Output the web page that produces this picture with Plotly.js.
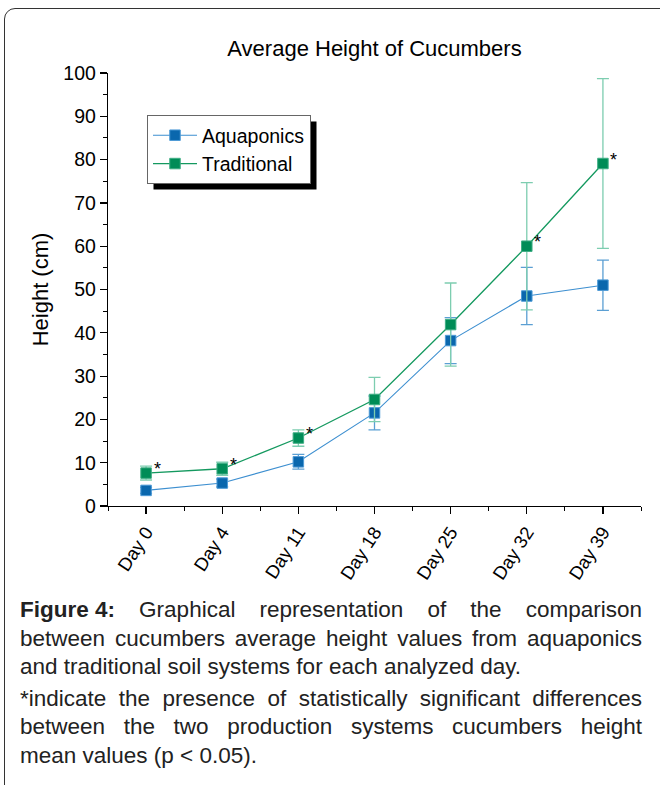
<!DOCTYPE html>
<html>
<head>
<meta charset="utf-8">
<script src="https://cdn.plot.ly/plotly-3.0.1.min.js"></script>
<style>
  html, body { margin: 0; padding: 0; background: #fff; }
  body { width: 660px; height: 785px; position: relative; overflow: hidden; font-family: Arial, "Liberation Sans", sans-serif; }
  #frame { position: absolute; left: 4px; top: 8px; width: 720px; height: 820px; border: 1px solid #333; border-radius: 11px; }
  #chart { position: absolute; left: 0; top: 0; width: 660px; height: 785px; }
  #caption { position: absolute; left: 20px; top: 596px; width: 622px; font-size: 22.5px; color: #222; line-height: 28.5px; }
  #caption .ln { text-align: justify; text-align-last: justify; white-space: nowrap; }
  #caption .last { text-align: left; text-align-last: left; }
  #caption .p2 { margin-top: 3px; }
  #caption .fig { display: inline-block; font-weight: bold; }
</style>
</head>
<body>
<div id="frame"></div>
<div id="chart"></div>
<div id="caption">
  <div class="ln"><span class="fig">Figure 4:</span> Graphical representation of the comparison</div>
  <div class="ln">between cucumbers average height values from aquaponics</div>
  <div class="ln last">and traditional soil systems for each analyzed day.</div>
  <div class="ln p2">*indicate the presence of statistically significant differences</div>
  <div class="ln">between the two production systems cucumbers height</div>
  <div class="ln last">mean values (p &lt; 0.05).</div>
</div>
<script>
const days = ["Day 0", "Day 4", "Day 11", "Day 18", "Day 25", "Day 32", "Day 39"];
const aquaponics = [3.6, 5.3, 10.2, 21.5, 38.2, 48.5, 51.0];
const aquaponicsErr = [0.7, 0.9, 1.7, 3.9, 5.3, 6.6, 5.8];
const traditional = [7.6, 8.6, 15.7, 24.6, 41.9, 60.0, 79.1];
const traditionalErr = [1.6, 1.5, 1.9, 5.1, 9.6, 14.7, 19.6];
const significant = [true, true, true, false, false, true, true];

const xIdx = days.map((d, i) => i);

const blueLine = '#3d8fd0', blueMarker = '#0a67ad', blueErr = '#5b9fd3';
const greenLine = '#14995f', greenMarker = '#008c57', greenErr = '#7dcdb0';

const traces = [
  {
    x: xIdx, y: aquaponics, name: 'Aquaponics', mode: 'lines+markers', type: 'scatter',
    line: { color: blueLine, width: 1.1 },
    marker: { symbol: 'square', size: 10.5, color: blueMarker, line: { color: '#4d9ad6', width: 1 } },
    error_y: { type: 'data', array: aquaponicsErr, visible: true, color: blueErr, thickness: 1.3, width: 6 }
  },
  {
    x: xIdx, y: traditional, name: 'Traditional', mode: 'lines+markers', type: 'scatter',
    line: { color: greenLine, width: 1.3 },
    marker: { symbol: 'square', size: 10.5, color: greenMarker, line: { color: '#3fae84', width: 1 } },
    error_y: { type: 'data', array: traditionalErr, visible: true, color: greenErr, thickness: 1.3, width: 6 }
  }
];

const annotations = [];
significant.forEach((s, i) => {
  if (s) annotations.push({
    x: xIdx[i], y: traditional[i], xref: 'x', yref: 'y', text: '*', showarrow: false,
    xshift: 11, yshift: 4, font: { family: 'Arial, Liberation Sans, sans-serif', size: 18, color: '#000' }
  });
});

const pw = 533, ph = 432.7, l0 = 108, b0 = 505.7;

const layout = {
  width: 660, height: 785,
  margin: { l: 108, r: 19, t: 73, b: 279.3 },
  paper_bgcolor: 'rgba(0,0,0,0)', plot_bgcolor: 'rgba(0,0,0,0)',
  font: { family: 'Arial, Liberation Sans, sans-serif', color: '#000', size: 19 },
  title: { text: 'Average Height of Cucumbers', x: 0.5, xref: 'paper', y: 0.939, yanchor: 'middle', font: { size: 22 } },
  showlegend: true,
  legend: {
    x: (147 - l0) / pw, y: (b0 - 115) / ph, xanchor: 'left', yanchor: 'top',
    bgcolor: '#fff', bordercolor: '#666', borderwidth: 1,
    font: { size: 19.5 }, tracegroupgap: 0, itemwidth: 44
  },
  xaxis: {
    range: [-0.5, 6.5], tickmode: 'array', tickvals: xIdx, ticktext: days, tickangle: -57,
    showgrid: false, zeroline: false, showline: true, linecolor: '#000', linewidth: 1.2,
    ticks: 'outside', ticklen: 7, tickwidth: 1.2, tickcolor: '#000',
    tickfont: { size: 18.5 },
    minor: { tickmode: 'linear', tick0: -0.5, dtick: 1, ticks: 'outside', ticklen: 4, tickwidth: 1, tickcolor: '#000', showgrid: false }
  },
  yaxis: {
    range: [0, 100], dtick: 10, tick0: 0,
    showgrid: false, zeroline: false, showline: true, linecolor: '#000', linewidth: 1.2,
    ticks: 'outside', ticklen: 7, tickwidth: 1.2, tickcolor: '#000',
    tickfont: { size: 19.5 },
    minor: { dtick: 5, ticks: 'outside', ticklen: 4, tickwidth: 1, tickcolor: '#000', showgrid: false },
    title: { text: 'Height (cm)', font: { size: 22 }, standoff: 8 }
  },
  annotations: annotations
};

Plotly.newPlot('chart', traces, layout, { displayModeBar: false, staticPlot: true }).then(gd => {
  // drop shadow behind the legend box, placed from the drawn legend's size
  const bg = gd.querySelector('.legend .bg');
  if (!bg) return;
  const r = bg.getBoundingClientRect();
  const c = gd.getBoundingClientRect();
  const off = 6;
  const x0 = r.left - c.left + off, x1 = r.right - c.left + off;
  const y0 = r.top - c.top + off, y1 = r.bottom - c.top + off;
  Plotly.relayout(gd, {
    shapes: [{
      type: 'rect', xref: 'paper', yref: 'paper', layer: 'above',
      x0: (x0 - l0) / pw, x1: (x1 - l0) / pw,
      y0: (b0 - y1) / ph, y1: (b0 - y0) / ph,
      fillcolor: '#000', line: { width: 0 }
    }]
  });
});
</script>
</body>
</html>
